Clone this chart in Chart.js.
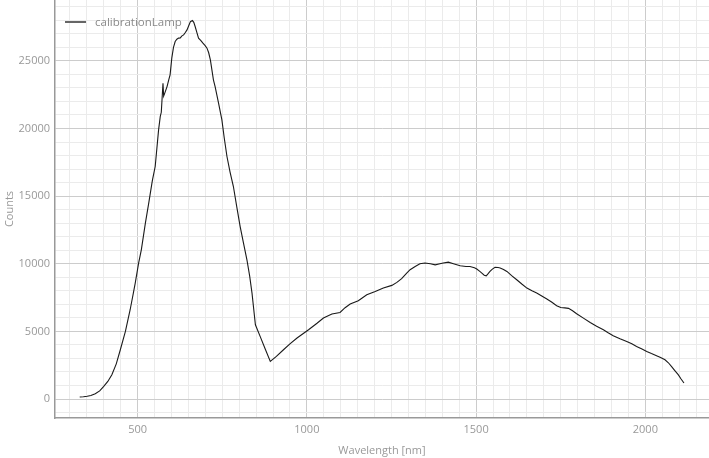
<!DOCTYPE html>
<html>
<head>
<meta charset="utf-8">
<script src="https://cdn.jsdelivr.net/npm/chart.js@4"></script>
<style>
  html, body { margin: 0; padding: 0; background: #ffffff; }
  #wrap { width: 709px; height: 458px; position: relative; }
</style>
</head>
<body>
<div id="wrap"><canvas id="c" width="709" height="458"></canvas></div>
<script>
const seriesName = "calibrationLamp";
const wavelengths = [
  329, 340, 351, 362, 375, 388, 400, 412, 424, 437, 449, 464, 478, 488, 493, 503, 511, 523, 533, 542,
  544, 552, 562, 567, 570, 575, 577, 580, 587, 592, 596, 601, 606, 611, 616, 621, 626, 631, 636, 641,
  646, 651, 656, 662, 666, 670, 675, 680, 687, 693, 699, 705, 710, 715, 724, 729, 739, 749, 756, 764,
  773, 783, 793, 803, 813, 823, 831, 838, 848, 862, 877, 892, 910, 931, 950, 971, 1005, 1030, 1049, 1074,
  1098, 1113, 1128, 1152, 1177, 1202, 1226, 1251, 1266, 1280, 1295, 1305, 1320, 1334, 1349, 1365, 1379, 1393, 1403, 1418,
  1433, 1453, 1470, 1482, 1495, 1502, 1510, 1517, 1524, 1530, 1535, 1541, 1548, 1556, 1565, 1571, 1581, 1591, 1605, 1620,
  1635, 1650, 1665, 1679, 1694, 1709, 1724, 1738, 1750, 1762, 1773, 1785, 1797, 1817, 1837, 1856, 1876, 1890, 1905, 1925,
  1945, 1960, 1974, 1990, 2004, 2018, 2033, 2045, 2058, 2068, 2077, 2087, 2097, 2105, 2114
];
const counts = [
  150, 170, 200, 260, 390, 600, 930, 1300, 1800, 2600, 3640, 5000, 6600, 7900, 8570, 10050, 11030, 13000, 14500, 15900,
  16200, 17190, 19900, 20900, 21200, 23350, 22400, 22600, 23100, 23600, 23970, 25200, 26000, 26430, 26600, 26680, 26700, 26850, 26920, 27100,
  27290, 27600, 27900, 27980, 27850, 27540, 27100, 26680, 26500, 26310, 26150, 25940, 25600, 25070, 23600, 23100, 21900, 20640, 19300, 17930,
  16800, 15710, 14200, 12750, 11500, 10290, 9100, 7830, 5490, 4630, 3700, 2780, 3150, 3640, 4080, 4510, 5120, 5600, 5990, 6280,
  6400, 6750, 7020, 7260, 7710, 7950, 8200, 8400, 8620, 8900, 9310, 9560, 9800, 10000, 10050, 10000, 9920, 10000, 10050, 10120,
  10000, 9850, 9800, 9800, 9700, 9610, 9450, 9310, 9150, 9110, 9250, 9430, 9600, 9730, 9720, 9690, 9580, 9430, 9120, 8820,
  8500, 8200, 8000, 7830, 7610, 7390, 7150, 6900, 6760, 6740, 6700, 6520, 6300, 5980, 5660, 5380, 5120, 4900, 4680, 4460,
  4260, 4080, 3890, 3700, 3520, 3360, 3200, 3060, 2900, 2680, 2410, 2100, 1800, 1500, 1180
];
const xTickLabels = [500, 1000, 1500, 2000];
const yTickLabels = [0, 5000, 10000, 15000, 20000, 25000];
const xTitle = "Wavelength [nm]";
const yTitle = "Counts";

const points = wavelengths.map((w, i) => ({ x: w, y: counts[i] }));

const FONT = "'Open Sans', 'Noto Sans', sans-serif";
const MAJOR = '#cccccc';
const MINOR = '#ebebeb';

function gridTicks(lo, hi, step) {
  const t = [];
  for (let v = Math.ceil(lo / step) * step; v <= hi; v += step) t.push({ value: v });
  return t;
}

const legendPlugin = {
  id: 'insideLegend',
  afterDraw(chart) {
    const ctx = chart.ctx;
    ctx.save();
    ctx.strokeStyle = '#666666';
    ctx.lineWidth = 2;
    ctx.beginPath();
    ctx.moveTo(65, 22);
    ctx.lineTo(86, 22);
    ctx.stroke();
    ctx.fillStyle = '#8a8a8a';
    ctx.font = "11.5px " + FONT;
    ctx.textBaseline = 'middle';
    ctx.textAlign = 'left';
    ctx.fillText(seriesName, 95, 23);
    ctx.restore();
  }
};

new Chart(document.getElementById('c'), {
  type: 'line',
  data: {
    datasets: [{
      label: seriesName,
      data: points,
      borderColor: '#1a1a1a',
      borderWidth: 1.1,
      pointRadius: 0,
      tension: 0,
      fill: false
    }]
  },
  options: {
    responsive: false,
    animation: false,
    layout: { padding: { top: 0, right: 0, left: 0, bottom: 0 } },
    plugins: {
      legend: { display: false },
      tooltip: { enabled: false }
    },
    scales: {
      x: {
        type: 'linear',
        min: 256,
        max: 2188,
        afterFit(scale) { scale.height = 40; scale.paddingLeft = 0; scale.paddingRight = 0; },
        afterBuildTicks(scale) { scale.ticks = gridTicks(256, 2188, 50); },
        grid: {
          drawTicks: false,
          color: (c) => (c.tick && c.tick.value % 500 === 0) ? MAJOR : MINOR,
          lineWidth: 1
        },
        border: { display: true, color: '#999999', width: 1.5 },
        ticks: {
          autoSkip: false,
          maxRotation: 0,
          padding: 5,
          color: '#999999',
          font: { family: FONT, size: 11 },
          callback: (v) => xTickLabels.includes(v) ? String(v) : ''
        },
        title: {
          display: true,
          text: xTitle,
          color: '#999999',
          font: { family: FONT, size: 11 },
          padding: { top: 0, bottom: 1 }
        }
      },
      y: {
        type: 'linear',
        min: -1404,
        max: 29500,
        afterFit(scale) { scale.width = 55; scale.paddingTop = 0; scale.paddingBottom = 0; },
        afterBuildTicks(scale) { scale.ticks = gridTicks(-1404, 29500, 1000); },
        grid: {
          drawTicks: false,
          color: (c) => (c.tick && c.tick.value % 5000 === 0) ? MAJOR : MINOR,
          lineWidth: 1
        },
        border: { display: true, color: '#999999', width: 1.5 },
        ticks: {
          autoSkip: false,
          padding: 5,
          color: '#999999',
          font: { family: FONT, size: 11 },
          callback: (v) => yTickLabels.includes(v) ? String(v) : ''
        },
        title: {
          display: true,
          text: yTitle,
          color: '#999999',
          font: { family: FONT, size: 11 },
          padding: { top: 3, bottom: 0 }
        }
      }
    }
  },
  plugins: [legendPlugin]
});
</script>
</body>
</html>
